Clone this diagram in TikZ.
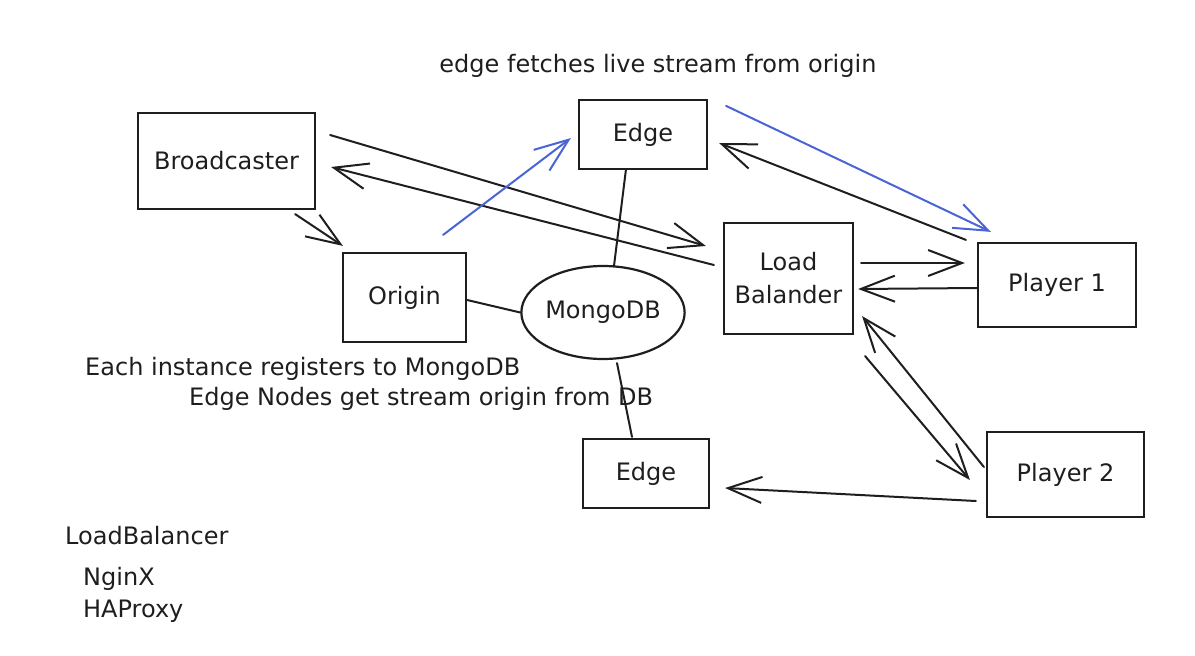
\documentclass[tikz,border=0pt]{standalone}
\usepackage{fontspec}
\setmainfont{DejaVu Sans}
\usetikzlibrary{arrows.meta,shapes.geometric,calc}
\definecolor{lineblue}{HTML}{4A64D6}
\definecolor{ink}{HTML}{1E1E1E}
\begin{document}
\begin{tikzpicture}[x=1pt,y=-1pt,
  txt/.style={font=\fontsize{24}{33}\selectfont, text=ink},
  box/.style={draw=ink, line width=2.2pt, inner sep=0pt, txt, align=center},
  conn/.style={draw=ink, line width=2pt, line cap=round, -{Straight Barb[length=34pt,width=26pt]}},
  bconn/.style={conn, draw=lineblue},
  link/.style={draw=ink, line width=2pt, line cap=round},
  lbl/.style={txt, inner sep=0pt}
]
\useasboundingbox (0,0) rectangle (1195,656);

% nodes
\node[box, minimum width=177pt, minimum height=96pt] (bc) at (226.5,161) {Broadcaster};
\node[box, minimum width=123pt, minimum height=89pt] (origin) at (404.5,297.5) {Origin};
\node[box, minimum width=128pt, minimum height=69pt] (edgeT) at (643,134.5) {Edge};
\node[draw=ink, ellipse, line width=2.2pt, inner sep=0pt, minimum width=160pt, minimum height=93pt, txt] (mongo) at (603,312.5) {MongoDB};
\node[box, minimum width=129pt, minimum height=111pt] (lb) at (788.5,278.5) {Load\\Balander};
\node[box, minimum width=158pt, minimum height=84pt] (p1) at (1057,285) {Player 1};
\node[box, minimum width=157pt, minimum height=85pt] (p2) at (1065.5,474.5) {Player 2};
\node[box, minimum width=126pt, minimum height=69pt] (edgeB) at (646,473.5) {Edge};

% texts
\node[lbl, anchor=center] (t1) at (658,66) {edge fetches live stream from origin};
\node[lbl, anchor=mid west] (t2) at (85,373) {Each instance registers to MongoDB};
\node[lbl, anchor=mid west] (t3) at (189,403) {Edge Nodes get stream origin from DB};
\node[lbl, anchor=mid west] (t4) at (65,542) {LoadBalancer};
\node[lbl, anchor=mid west] (t5) at (83,583) {NginX};
\node[lbl, anchor=mid west] (t6) at (83,615) {HAProxy};

% plain links
\draw[link] ([shift={(-17,-1)}]edgeT.south) -- ([shift={(11,1)}]mongo.north);
\draw[link] ([shift={(0,2.5)}]origin.east) -- (mongo.west);
\draw[link] ([shift={(14,3)}]mongo.south) -- ([shift={(-14,-1)}]edgeB.north);

% arrows
\draw[conn] ([shift={(14,-26)}]bc.east) -- ([shift={(-17,-32.5)}]lb.west);
\draw[conn] ([shift={(-9,-13.5)}]lb.west) -- ([shift={(15,6)}]bc.east);
\draw[conn] ([shift={(-21,4)}]bc.south east) -- ([shift={(1,-6)}]origin.north west);
\draw[bconn] ([shift={(-24,-17)}]origin.north east) -- ([shift={(-7,3.5)}]edgeT.west);
\draw[bconn] ([shift={(18,7)}]edgeT.north east) -- ([shift={(14,-10)}]p1.north west);
\draw[conn] ([shift={(-11,-2)}]p1.north west) -- ([shift={(11,8.5)}]edgeT.east);
\draw[conn] ([shift={(7,-15.5)}]lb.east) -- ([shift={(-12,-22)}]p1.west);
\draw[conn] ([shift={(0,3)}]p1.west) -- ([shift={(4,10.5)}]lb.east);
\draw[conn] ([shift={(-2,-7.5)}]p2.west) -- ([shift={(8,-19)}]lb.south east);
\draw[conn] ([shift={(11,21)}]lb.south east) -- ([shift={(-16,5.5)}]p2.west);
\draw[conn] ([shift={(-10,26.5)}]p2.west) -- ([shift={(15,14.5)}]edgeB.east);
\end{tikzpicture}
\end{document}
